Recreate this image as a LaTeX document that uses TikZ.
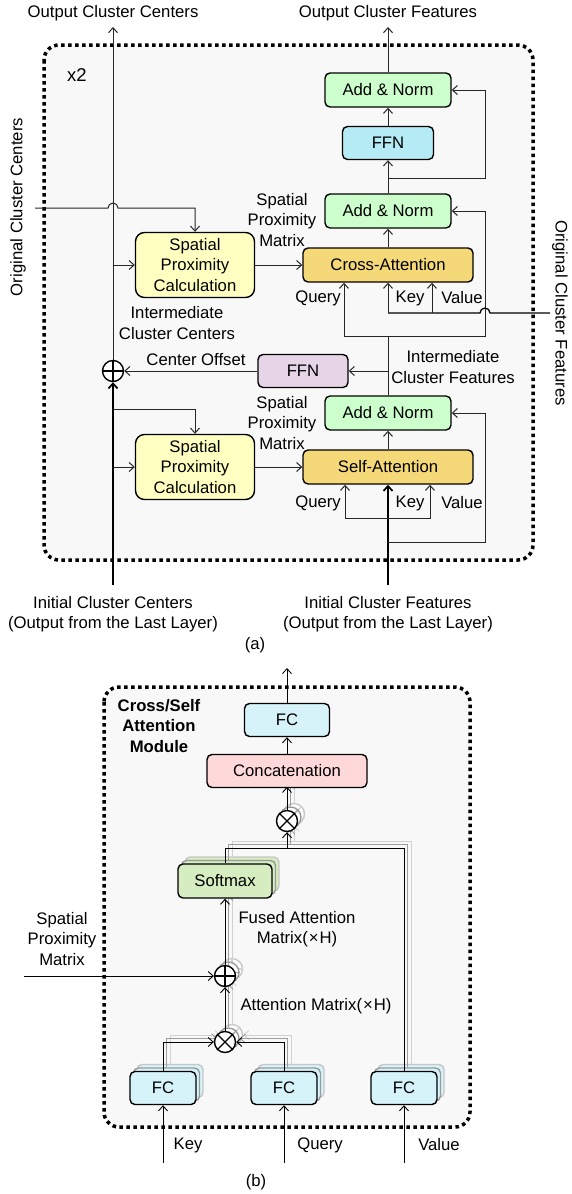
\documentclass[tikz,border=0pt]{standalone}
\usepackage{fontspec}
\setmainfont{Liberation Sans}
\usetikzlibrary{arrows.meta}

\definecolor{framebg}{HTML}{F8F8F8}
\definecolor{normgreen}{HTML}{CCFFCC}
\definecolor{ffnblue}{HTML}{B5EBF5}
\definecolor{attnyellow}{HTML}{F5D878}
\definecolor{spcyellow}{HTML}{FFFFC2}
\definecolor{offslilac}{HTML}{E6D5E6}
\definecolor{fccyan}{HTML}{D6F3FA}
\definecolor{catpink}{HTML}{FFD9DA}
\definecolor{smgreen}{HTML}{D5EDC0}

\newcommand\hbtext[1]{#1}
\newcommand\headstack{%
  \node[fcbox] (fck) at (163,1088) {\hbtext{FC}};
  \node[fcbox] (fcq) at (284,1088) {\hbtext{FC}};
  \node[fcbox] (fcv) at (404,1088) {\hbtext{FC}};
  \node[opnode] (mulqk) at (225,1042) {};
  \node[opnode] (addspm) at (225,976) {};
  \node[smbox] (smax) at (225,881) {\hbtext{Softmax}};
  \node[opnode] (mulv) at (287,821) {};
  \coordinate (jsm) at (287,848);
  \draw[hline, line width=1.3pt] (mulqk.45) -- (mulqk.225) (mulqk.135) -- (mulqk.315);
  \draw[hline, line width=1.3pt] (addspm.north) -- (addspm.south) (addspm.west) -- (addspm.east);
  \draw[hline, line width=1.3pt] (mulv.45) -- (mulv.225) (mulv.135) -- (mulv.315);
  \draw[hline,->] (fck.north) |- (mulqk.west);
  \draw[hline,->] (fcq.north) |- (mulqk.east);
  \draw[hline,->] (mulqk.north) -- (addspm.south);
  \draw[hline,->] (addspm.north) -- (smax.south);
  \draw[hline] (smax.north) |- (jsm) -| (fcv.north);
  \draw[hline,->] (jsm) -- (mulv.south);
  \draw[hline,->] (mulv.north) -- ++(0,-23);
}

\begin{document}
\begin{tikzpicture}[x=1pt, y=-1pt, >={Straight Barb[length=5pt,width=9pt]},
    line width=1pt, draw=black!85,
    every node/.style={font=\fontsize{16.7}{20.5}\selectfont},
    dotframe/.style={draw=black, line width=3.5pt, dash pattern=on 3.5pt off 3.5pt,
        rounded corners=15pt, fill=framebg},
    blk/.style={draw=black, line width=1.4pt, rounded corners=5pt, inner sep=0pt},
    norm/.style={blk, fill=normgreen, minimum width=126pt, minimum height=34pt},
    ffn/.style={blk, fill=ffnblue, minimum width=91pt, minimum height=33pt},
    offs/.style={blk, fill=offslilac, minimum width=90pt, minimum height=33pt},
    attn/.style={blk, fill=attnyellow, minimum width=170pt, minimum height=34pt},
    spc/.style={blk, fill=spcyellow, minimum width=119pt, minimum height=65pt,
        align=center, rounded corners=9pt},
    catbox/.style={blk, fill=catpink, minimum width=160pt, minimum height=33pt},
    hbox/.style={},
    fcbox/.style={blk, fill=fccyan, minimum width=66pt, minimum height=33pt, hbox},
    smbox/.style={blk, fill=smgreen, minimum width=94pt, minimum height=34pt, hbox},
    opnode/.style={circle, draw=black, line width=1.4pt, fill=white, minimum size=21pt,
        inner sep=0pt, hbox},
    hline/.style={draw=black, line width=0.9pt},
    thickline/.style={draw=black, line width=1.7pt}]

  \useasboundingbox (0,0) rectangle (571,1194);

  \draw[dotframe] (44,45) rectangle (533,560);
  \node[font=\fontsize{18.5}{20}\selectfont] (xtwo) at (77,75) {x2};

  \node[norm] (an3) at (388,90) {Add \& Norm};
  \node[ffn] (ffn2) at (388,143) {FFN};
  \node[norm] (an2) at (388,211) {Add \& Norm};
  \node[attn] (ca) at (388,265) {Cross-Attention};
  \node[spc] (spc2) at (195,265) {Spatial\\Proximity\\Calculation};
  \node[opnode] (cadd) at (113,371) {};
  \node[offs] (ffn1) at (303,371) {FFN};
  \node[norm] (an1) at (388,413) {Add \& Norm};
  \node[attn] (sa) at (388,467) {Self-Attention};
  \node[spc] (spc1) at (195,467) {Spatial\\Proximity\\Calculation};
  \draw[draw=black, line width=1.3pt] (cadd.north) -- (cadd.south) (cadd.west) -- (cadd.east);

  \node (occ) at (113,13) {Output Cluster Centers};
  \node (ocf) at (388,13) {Output Cluster Features};
  \node[rotate=90] (orcc) at (18,207) {Original Cluster Centers};
  \node[rotate=-90] (orcf) at (560,313) {Original Cluster Features};
  \node[align=center] (icc) at (113,614) {Initial Cluster Centers\\(Output from the Last Layer)};
  \node[align=center] (icf) at (388,614) {Initial Cluster Features\\(Output from the Last Layer)};
  \node (capa) at (255,645) {(a)};
  \node[align=center] (spm2) at (282,220) {Spatial\\Proximity\\Matrix};
  \node[align=center] (spm1) at (282,423) {Spatial\\Proximity\\Matrix};
  \node[align=center] (icen) at (177,323) {Intermediate\\Cluster Centers};
  \node (coff) at (196,360) {Center Offset};
  \node[align=center] (ifeat) at (453,367) {Intermediate\\Cluster Features};
  \node (caql) at (318,298) {Query};
  \node (cakl) at (410,298) {Key};
  \node (cavl) at (462,298) {Value};
  \node (saql) at (318,503) {Query};
  \node (sakl) at (410,503) {Key};
  \node (savl) at (462,503) {Value};

  \coordinate (occout) at (113,27);
  \coordinate (ocfout) at (388,27);
  \coordinate (orccin) at (35,208);
  \coordinate (orcfin) at (550,313);
  \coordinate (iccin) at (113,585);
  \coordinate (icfin) at (388,585);
  \coordinate (resx) at (485,0);
  \coordinate (jres3) at (388,178);
  \coordinate (jca) at (388,336);
  \coordinate (jres1) at (388,542);
  \coordinate (jsa) at (388,518);
  \coordinate (jcc) at (113,409);
  \coordinate (caq) at (344,0);
  \coordinate (cav) at (432,0);
  \coordinate (saq) at (345,0);
  \coordinate (sav) at (430,0);
  \coordinate (hopc) at (cadd.north |- orccin);
  \coordinate (hopf) at (resx |- orcfin);

  \draw[->] (an3.north) -- (ocfout);
  \draw[->] (ffn2.north) -- (an3.south);
  \draw[->] (an2.north) -- (ffn2.south);
  \draw[->] (jres3) -| (resx |- an3) -- (an3.east);
  \draw[->] (ca.north) -- (an2.south);
  \draw[->] (jca) -| (resx |- an2) -- (an2.east);
  \draw[->] (jca) -| (caq |- ca.south);
  \draw (an1.north) -- (jca);
  \draw[line width=1.3pt, draw=black] (orcfin) -- ([xshift=5pt]hopf)
    arc[start angle=0, end angle=180, radius=5pt] -- (ca.south |- orcfin);
  \draw[->] (ca.south |- orcfin) -- (ca.south);
  \draw[->] (cav |- orcfin) -- (cav |- ca.south);
  \draw[->] (an1.north |- ffn1) -- (ffn1.east);
  \draw[->] (ffn1.west) -- (cadd.east);
  \draw[->] (spc2.east) -- (ca.west);
  \draw[->] (spc1.east) -- (sa.west);
  \draw[->] (sa.north) -- (an1.south);
  \draw[->, thickline] (icfin) -- (sa.south);
  \draw[->] (jres1) -| (resx |- an1) -- (an1.east);
  \draw[->] (jsa) -| (saq |- sa.south);
  \draw[->] (jsa) -| (sav |- sa.south);
  \draw[->, thickline] (iccin) -- (cadd.south);
  \draw[->] (cadd.north) -- (occout);
  \draw[->] (jcc) -| (spc1.north);
  \draw[->] (cadd.north |- spc1) -- (spc1.west);
  \draw[->] (cadd.north |- spc2) -- (spc2.west);
  \draw[->] (orccin) -- ([xshift=-5pt]hopc) arc[start angle=180, end angle=0, radius=5pt]
    -| (spc2.north);

  \draw[dotframe] (104,687) rectangle (470,1127);
  \node[font=\fontsize{16.7}{20.5}\selectfont\bfseries, align=center] (title) at (159,726)
    {Cross/Self\\Attention\\Module};

  \begin{scope}[shift={(7,-7)}, name prefix=gb-,
      hline/.style={draw=black!18, line width=0.9pt},
      hbox/.style={draw=black!22}]
    \renewcommand\hbtext[1]{}
    \headstack
  \end{scope}
  \begin{scope}[shift={(3.5,-3.5)}, name prefix=ga-,
      hline/.style={draw=black!38, line width=0.9pt},
      hbox/.style={draw=black!40}]
    \renewcommand\hbtext[1]{}
    \headstack
  \end{scope}
  \headstack

  \node[catbox] (concat) at (287,771) {Concatenation};
  \node[fcbox, minimum width=85pt] (fcout) at (287,720) {FC};
  \coordinate (fcoutup) at (287,668);
  \coordinate (spmin) at (24,976);
  \coordinate (inbase) at (0,1163);
  \draw[->, hline] (concat.north) -- (fcout.south);
  \draw[->, hline] (fcout.north) -- (fcoutup);
  \draw[->, hline] (spmin) -- (addspm.west);
  \draw[->, hline] (fck |- inbase) -- (fck.south);
  \draw[->, hline] (fcq |- inbase) -- (fcq.south);
  \draw[->, hline] (fcv |- inbase) -- (fcv.south);

  \node[align=center] (spml) at (62,939) {Spatial\\Proximity\\Matrix};
  \node[align=center] (faml) at (297,929) {Fused Attention\\Matrix(\kern1pt×\kern1pt H)};
  \node (aml) at (316,1006) {Attention Matrix(\kern1pt×\kern1pt H)};
  \node (keyl) at (188,1145) {Key};
  \node (queryl) at (320,1145) {Query};
  \node (valuel) at (439,1145) {Value};
  \node (capb) at (256,1182) {(b)};
\end{tikzpicture}
\end{document}
